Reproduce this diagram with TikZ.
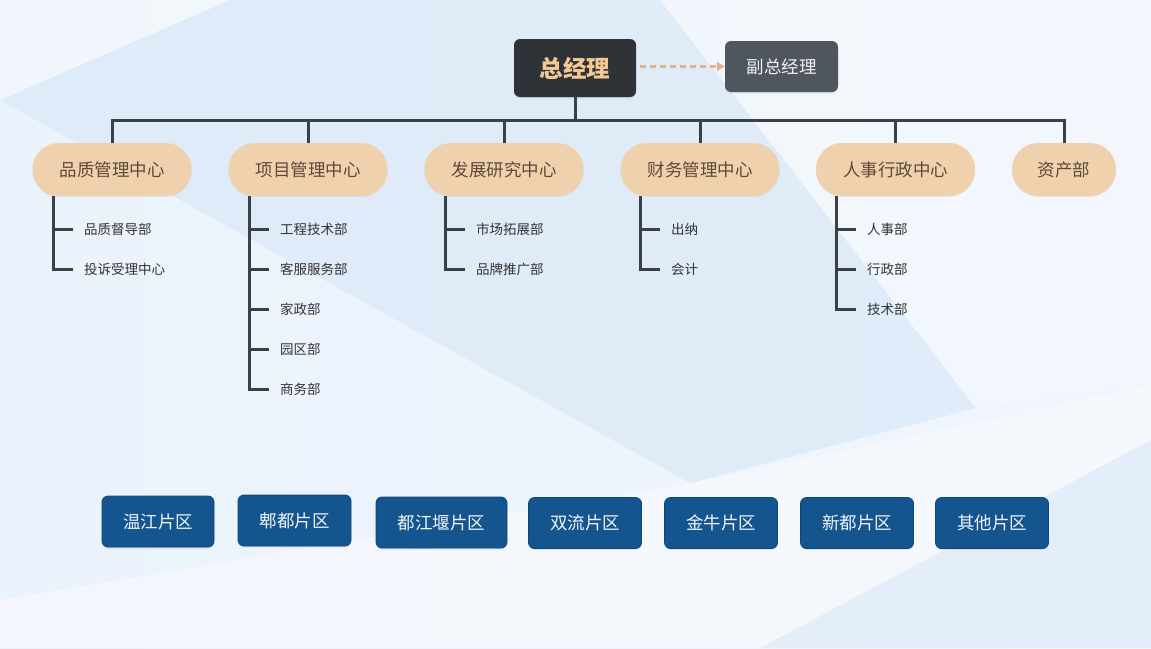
\documentclass[tikz,border=0pt]{standalone}
\usepackage{fontspec}
\setmainfont{Noto Sans CJK SC}
\usetikzlibrary{arrows.meta,shadows}
\definecolor{linec}{HTML}{3B4047}
\definecolor{pillc}{HTML}{F0D1AD}
\definecolor{pilltext}{HTML}{5C4A3B}
\definecolor{topc}{HTML}{2F3338}
\definecolor{toptext}{HTML}{F2C894}
\definecolor{vicec}{HTML}{50565E}
\definecolor{areac}{HTML}{14548F}
\definecolor{areaedge}{HTML}{0F4678}
\definecolor{dashc}{HTML}{E0B48E}
\definecolor{subtext}{HTML}{333333}
\definecolor{bgleft}{HTML}{EAF2FB}
\definecolor{bgright}{HTML}{F1F6FD}
\definecolor{bgband}{HTML}{DCEAF8}
\definecolor{bglight}{HTML}{F7FAFE}
\tikzset{
  pill/.style={fill=pillc, text=pilltext, minimum height=53pt, rounded corners=26pt, font=\fontsize{17.5}{20}\selectfont, inner sep=0pt, drop shadow={opacity=0.10, shadow xshift=0pt, shadow yshift=-1pt}},
  subitem/.style={anchor=west, inner sep=0pt, text=subtext, font=\fontsize{13.5}{16}\selectfont},
  area/.style={fill=areac, draw=areaedge, line width=0.8pt, text=white!94!areac, minimum height=51pt, rounded corners=6pt, inner sep=0pt, font=\fontsize{17.5}{20}\selectfont, drop shadow={opacity=0.18, shadow xshift=0pt, shadow yshift=-1.5pt}},
  bus/.style={draw=linec, line width=3pt},
  subline/.style={draw=linec, line width=3pt},
}
\begin{document}
\begin{tikzpicture}[x=1pt,y=-1pt]
\useasboundingbox (0,0) rectangle (1151,648);
% background
\shade[left color=bgleft, right color=bgright] (0,0) rectangle (1151,648);
\fill[bgband, opacity=0.8] (0,100) -- (690,483) -- (976,408) -- (660,0) -- (230,0) -- cycle;
\fill[bglight, opacity=0.6] (0,0) -- (230,0) -- (0,100) -- cycle;
\fill[bglight, opacity=0.7] (0,648) -- (0,600) -- (690,483) -- (1151,385) -- (1151,440) -- (760,648) -- cycle;
\fill[bgband, opacity=0.6] (1151,440) -- (760,648) -- (1151,648) -- cycle;
\fill[bglight, opacity=0.4] (660,0) -- (1151,0) -- (1151,385) -- (976,408) -- cycle;

% top nodes
\node[fill=topc, text=toptext, minimum width=122pt, minimum height=58pt, rounded corners=6pt, font=\fontsize{23.5}{26}\selectfont\bfseries, drop shadow={opacity=0.18, shadow xshift=0pt, shadow yshift=-1.5pt}] (zjl) at (575,68) {总经理};
\node[fill=vicec, text=white!92!vicec, minimum width=113pt, minimum height=51pt, rounded corners=6pt, font=\fontsize{17.5}{20}\selectfont, drop shadow={opacity=0.15, shadow xshift=0pt, shadow yshift=-1.5pt}] (fzjl) at (781.5,66.5) {副总经理};
\draw[dashc, line width=2.2pt, dash pattern=on 6pt off 4pt, -{Triangle[length=8pt,width=9pt]}, shorten <=4pt] (zjl.east |- fzjl.west) -- (fzjl.west);

% centers
\node[pill, minimum width=159pt] (c1) at (112,169.5) {品质管理中心};
\node[pill, minimum width=159pt] (c2) at (308,169.5) {项目管理中心};
\node[pill, minimum width=159pt] (c3) at (504,169.5) {发展研究中心};
\node[pill, minimum width=159pt] (c4) at (700,169.5) {财务管理中心};
\node[pill, minimum width=159pt] (c5) at (895.5,169.5) {人事行政中心};
\node[pill, minimum width=104pt] (c6) at (1064,169.5) {资产部};

% bus
\coordinate (busl) at (112,120);
\coordinate (busr) at (1064,120);
\draw[bus] (zjl.south) -- (zjl.south |- busl);
\draw[bus, line join=miter] (c1.north) -- (busl) -- (busr) -- (c6.north);
\foreach \c in {c2,c3,c4,c5} \draw[bus] (\c.north) -- (\c.north |- busl);

% sub items
\node[subitem] (s11) at (84,229) {品质督导部};
\node[subitem] (s12) at (84,269) {投诉受理中心};
\node[subitem] (s21) at (280,229) {工程技术部};
\node[subitem] (s22) at (280,269) {客服服务部};
\node[subitem] (s23) at (280,309) {家政部};
\node[subitem] (s24) at (280,349) {园区部};
\node[subitem] (s25) at (280,389) {商务部};
\node[subitem] (s31) at (476,229) {市场拓展部};
\node[subitem] (s32) at (476,269) {品牌推广部};
\node[subitem] (s41) at (671,229) {出纳};
\node[subitem] (s42) at (671,269) {会计};
\node[subitem] (s51) at (867,229) {人事部};
\node[subitem] (s52) at (867,269) {行政部};
\node[subitem] (s53) at (867,309) {技术部};

\draw[subline, line join=miter] ([xshift=-31pt]s11.west |- c1.south) |- ([xshift=-11pt]s12.west);
\draw[subline] ([xshift=-31pt]s11.west) -- ([xshift=-11pt]s11.west);
\draw[subline, line join=miter] ([xshift=-31pt]s21.west |- c2.south) |- ([xshift=-11pt]s25.west);
\foreach \s in {s21,s22,s23,s24} \draw[subline] ([xshift=-31pt]\s.west) -- ([xshift=-11pt]\s.west);
\draw[subline, line join=miter] ([xshift=-31pt]s31.west |- c3.south) |- ([xshift=-11pt]s32.west);
\draw[subline] ([xshift=-31pt]s31.west) -- ([xshift=-11pt]s31.west);
\draw[subline, line join=miter] ([xshift=-31pt]s41.west |- c4.south) |- ([xshift=-11pt]s42.west);
\draw[subline] ([xshift=-31pt]s41.west) -- ([xshift=-11pt]s41.west);
\draw[subline, line join=miter] ([xshift=-31pt]s51.west |- c5.south) |- ([xshift=-11pt]s53.west);
\foreach \s in {s51,s52} \draw[subline] ([xshift=-31pt]\s.west) -- ([xshift=-11pt]\s.west);

% areas
\node[area, minimum width=112pt] (a1) at (158,521.5) {温江片区};
\node[area, minimum width=113pt] (a2) at (294.5,520.5) {郫都片区};
\node[area, minimum width=131pt] (a3) at (441.5,522.5) {都江堰片区};
\node[area, minimum width=113pt] (a4) at (585,523) {双流片区};
\node[area, minimum width=113pt] (a5) at (721,523) {金牛片区};
\node[area, minimum width=113pt] (a6) at (857,523) {新都片区};
\node[area, minimum width=113pt] (a7) at (992,523) {其他片区};
\end{tikzpicture}
\end{document}
